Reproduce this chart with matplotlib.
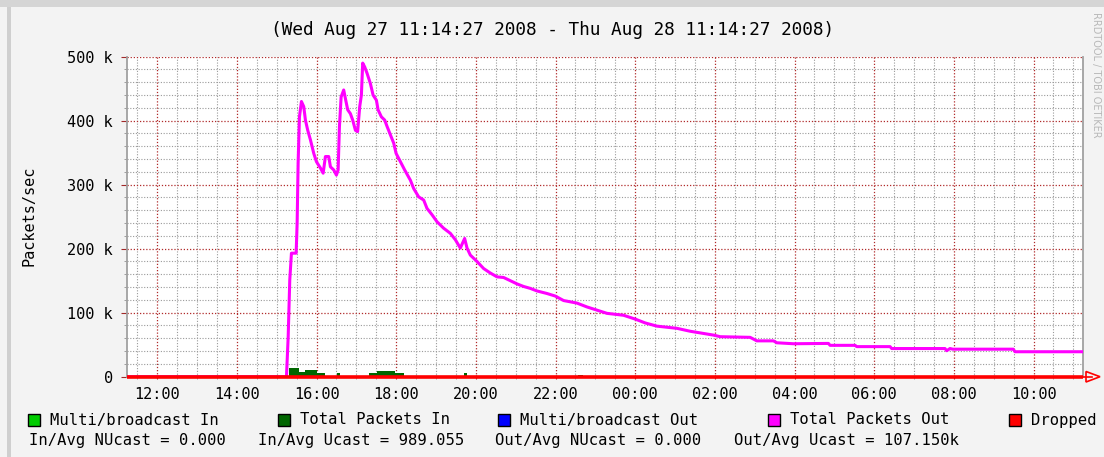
import numpy as np
import matplotlib.pyplot as plt
from matplotlib.patches import Rectangle, Polygon
from matplotlib.ticker import MultipleLocator, FixedLocator

# time in clock hours from 00:00 Aug 27 (11.24 = 11:14:27)
t_start = 11.2408
t_end = 35.2408

# Total Packets Out (k packets/sec)
out_t = [11.24, 15.244, 15.287, 15.327, 15.369, 15.487, 15.512, 15.537, 15.570, 15.620,
         15.678, 15.720, 15.778, 15.846, 15.929, 15.996, 16.097, 16.165, 16.222, 16.305,
         16.348, 16.431, 16.498, 16.541, 16.574, 16.616, 16.681, 16.732, 16.782, 16.849,
         16.907, 16.975, 17.031, 17.083, 17.125, 17.158, 17.208, 17.268, 17.351, 17.419,
         17.502, 17.544, 17.627, 17.710, 17.770, 17.853, 17.936, 17.996, 18.104, 18.212,
         18.355, 18.438, 18.563, 18.689, 18.772, 18.899, 19.025, 19.190, 19.358, 19.484,
         19.609, 19.717, 19.777, 19.860, 20.028, 20.194, 20.362, 20.530, 20.696, 20.864,
         21.032, 21.197, 21.365, 21.533, 21.784, 21.993, 22.201, 22.537, 22.788, 23.039,
         23.290, 23.706, 24.000, 24.250, 24.544, 25.046, 25.380, 25.964, 26.133, 26.885,
         27.053, 27.470, 27.555, 27.971, 28.849, 28.892, 29.519, 29.561, 30.397, 30.439,
         31.776, 31.818, 31.901, 31.977, 33.490, 33.533, 35.24]
out_v = [0, 0, 62, 151, 193, 193, 240, 334, 406, 430,
         422, 401, 385, 370, 349, 336, 326, 318, 344, 344,
         328, 323, 315, 323, 391, 437, 448, 432, 417, 411,
         401, 385, 383, 422, 440, 490, 484, 474, 458, 440,
         432, 417, 406, 401, 391, 378, 365, 349, 336, 323,
         307, 294, 281, 276, 263, 253, 242, 232, 224, 214,
         201, 216, 201, 190, 180, 169, 162, 156, 155, 150,
         145, 141, 138, 134, 130, 126, 119, 115, 109, 104,
         99, 96, 90, 84, 79, 75.6, 71, 65, 62.5, 61.5,
         56, 56, 53, 51.5, 52, 49, 49, 47, 47, 44,
         44, 40.6, 44, 43, 43, 39, 39]

# Total Packets In (k packets/sec), step values
in_t = [11.24, 15.30, 15.55, 15.72, 16.01, 16.22, 16.52, 16.60, 17.31, 17.52,
        17.98, 18.19, 19.69, 19.78, 22.57, 22.69, 35.24]
in_v = [0, 14, 8, 10, 6, 0, 5, 0, 6, 9,
        6, 0, 5, 0, 3, 0, 0]

xtick_hours = [12, 14, 16, 18, 20, 22, 24, 26, 28, 30, 32, 34]
xtick_labels = ['%02d:00' % (h % 24) for h in xtick_hours]
ytick_vals = [0, 100, 200, 300, 400, 500]
ytick_labels = ['0', '100 k', '200 k', '300 k', '400 k', '500 k']

legend_names = ['Multi/broadcast In', 'Total Packets In', 'Multi/broadcast Out',
                'Total Packets Out', 'Dropped']
legend_colors = ['#00cc00', '#006600', '#0000ff', '#ff00ff', '#ff0000']
stats = ['In/Avg NUcast = 0.000', 'In/Avg Ucast = 989.055',
         'Out/Avg NUcast = 0.000', 'Out/Avg Ucast = 107.150k']

W, H = 1104, 457
fig = plt.figure(figsize=(W / 100, H / 100), dpi=100, facecolor='#f3f3f3')
mono = 'DejaVu Sans Mono'


def fx(px):
    return px / W


def fy(py):
    return 1 - py / H


# frame bits of the original image
fig.add_artist(Rectangle((0, fy(7)), 1, 7 / H, transform=fig.transFigure,
                         color='#d5d5d5', lw=0))
fig.add_artist(Rectangle((fx(7), 0), 4 / W, fy(7), transform=fig.transFigure,
                         color='#cfcfcf', lw=0))

ax = fig.add_axes([fx(127), fy(376.7), fx(1083) - fx(127), (376.7 - 56.7) / H])
ax.set_facecolor('white')
ax.set_xlim(t_start, t_end)
ax.set_ylim(0, 500)

# grid
ax.xaxis.set_major_locator(FixedLocator(xtick_hours))
ax.xaxis.set_minor_locator(MultipleLocator(0.5))
ax.yaxis.set_major_locator(FixedLocator(ytick_vals))
ax.yaxis.set_minor_locator(MultipleLocator(20))
ax.grid(which='minor', color='#9a9a9a', linestyle=(0, (1, 1.5)), lw=0.8, zorder=0)
ax.grid(which='major', color='#b02a2a', linestyle=(0, (1, 1.5)), lw=0.9, zorder=0)
ax.set_axisbelow(True)

ax.set_xticklabels(xtick_labels, fontfamily=mono, fontsize=11)
ax.set_yticklabels(ytick_labels, fontfamily=mono, fontsize=11)
ax.tick_params(axis='x', which='major', length=3, color='#a02828', pad=6, direction='inout')
ax.tick_params(axis='x', which='minor', length=3, color='#909090', direction='inout')
ax.tick_params(axis='y', which='major', length=4, color='#a02828', pad=6)
ax.tick_params(axis='y', which='minor', length=2, color='#909090')

for s in ['top', 'bottom']:
    ax.spines[s].set_visible(False)
ax.spines['left'].set_color('#a0a0a0')
ax.spines['left'].set_linewidth(1.3)
ax.spines['right'].set_color('#a0a0a0')
ax.spines['right'].set_linewidth(1.3)

# data
ax.fill_between(in_t, in_v, step='post', color='#006600', lw=0, zorder=2)
ax.plot(out_t, out_v, color='#ff00ff', lw=2.2, zorder=3)
ax.plot([t_start, t_end], [0, 0], color='#ff0000', lw=2.6, zorder=4,
        solid_capstyle='butt', clip_on=False)

# axis arrow
fig.add_artist(Polygon([(fx(1086), fy(371.5)), (fx(1100), fy(376.7)), (fx(1086), fy(382))],
                       closed=True, fill=False, edgecolor='#ff0000', lw=1.2,
                       transform=fig.transFigure))
fig.add_artist(plt.Line2D([fx(1083), fx(1092)], [fy(376.7), fy(376.7)],
                          color='#ff0000', lw=1.2, transform=fig.transFigure))

fig.text(fx(29), fy(216), 'Packets/sec', fontfamily=mono, fontsize=11,
         rotation=90, ha='center', va='center')

fig.text(fx(553), fy(30), '(Wed Aug 27 11:14:27 2008 - Thu Aug 28 11:14:27 2008)',
         fontfamily=mono, fontsize=12.8, ha='center', va='center')

fig.text(fx(1096), fy(12), 'RRDTOOL / TOBI OETIKER', fontfamily='DejaVu Sans',
         fontsize=7, color='#b8b8b8', rotation=270, ha='center', va='top')

# legend
box_x = [28, 278, 498, 768, 1009]
for bx, name, col in zip(box_x, legend_names, legend_colors):
    fig.add_artist(Rectangle((fx(bx), fy(426)), 12 / W, 12 / H, transform=fig.transFigure,
                             facecolor=col, edgecolor='black', lw=1))
    fig.text(fx(bx + 22), fy(420), name, fontfamily=mono, fontsize=11.2,
             ha='left', va='center')

stat_x = [29, 258, 495, 734]
for sx, s in zip(stat_x, stats):
    fig.text(fx(sx), fy(441), s, fontfamily=mono, fontsize=11.2, ha='left', va='center')

fig.savefig('out.png', dpi=100, facecolor=fig.get_facecolor())
